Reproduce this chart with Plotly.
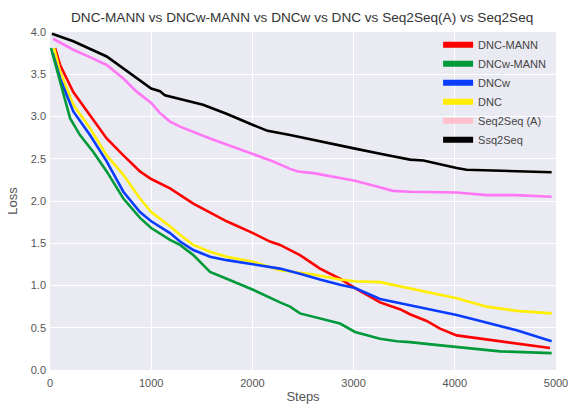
import plotly.graph_objects as go

# ---- data ----
names = ["DNC-MANN", "DNCw-MANN", "DNCw", "DNC", "Seq2Seq (A)", "Ssq2Seq"]
legend_colors = ["#ff0000", "#009a3a", "#0a3cff", "#ffee00", "#ffc0cb", "#000000"]
line_colors = ["#ff0000", "#009a3a", "#0a3cff", "#ffee00", "#ff77f5", "#000000"]

dnc_mann_x = [50, 100, 230, 395, 560, 725, 889, 1000, 1186, 1416, 1746, 2006, 2174, 2273, 2470, 2668,
              2866, 3014, 3261, 3458, 3557, 3722, 3854, 4018, 4315, 4710, 4941]
dnc_mann_y = [3.81, 3.61, 3.29, 3.02, 2.74, 2.54, 2.35, 2.26, 2.15, 1.97, 1.76, 1.62, 1.52, 1.48, 1.36, 1.20,
              1.08, 0.97, 0.80, 0.72, 0.66, 0.58, 0.49, 0.41, 0.36, 0.30, 0.26]

dncw_mann_x = [10, 100, 198, 296, 428, 560, 725, 889, 1000, 1186, 1285, 1416, 1581, 1746, 2006, 2273, 2372,
               2470, 2668, 2866, 3014, 3261, 3426, 3557, 3788, 4117, 4447, 4957]
dncw_mann_y = [3.81, 3.41, 2.98, 2.78, 2.58, 2.35, 2.03, 1.80, 1.68, 1.54, 1.48, 1.36, 1.16, 1.08, 0.95, 0.80, 0.75,
               0.67, 0.61, 0.55, 0.45, 0.37, 0.34, 0.33, 0.30, 0.26, 0.22, 0.20]

dncw_x = [27, 100, 230, 395, 560, 725, 889, 1000, 1186, 1285, 1416, 1581, 1746, 2006, 2273, 2470, 2668,
          2866, 3014, 3261, 3458, 3788, 4018, 4282, 4611, 4957]
dncw_y = [3.75, 3.45, 3.06, 2.78, 2.47, 2.11, 1.87, 1.76, 1.62, 1.52, 1.42, 1.34, 1.30, 1.25, 1.20, 1.14, 1.07,
          1.01, 0.97, 0.84, 0.79, 0.71, 0.65, 0.57, 0.47, 0.34]

dnc_x = [40, 100, 230, 395, 560, 725, 889, 1000, 1186, 1285, 1416, 1581, 1746, 2006, 2273, 2603, 2866,
         3014, 3261, 3458, 3788, 4018, 4315, 4611, 4957]
dnc_y = [3.81, 3.53, 3.14, 2.86, 2.54, 2.31, 2.03, 1.87, 1.70, 1.60, 1.48, 1.40, 1.34, 1.28, 1.18, 1.13, 1.07,
         1.05, 1.04, 0.99, 0.91, 0.85, 0.75, 0.70, 0.67]

seq2seq_a_x = [30, 230, 400, 560, 725, 850, 1000, 1087, 1186, 1285, 1581, 2006, 2200, 2372, 2450, 2603,
               3014, 3200, 3390, 3557, 4018, 4315, 4600, 4957]
seq2seq_a_y = [3.92, 3.79, 3.70, 3.61, 3.45, 3.30, 3.16, 3.04, 2.94, 2.88, 2.74, 2.56, 2.47, 2.38, 2.35, 2.33,
               2.24, 2.18, 2.12, 2.11, 2.10, 2.07, 2.07, 2.05]

seq2seq_x = [20, 230, 560, 800, 1000, 1087, 1136, 1512, 1750, 2006, 2150, 2372, 2600, 3014, 3300, 3557,
             3690, 3900, 4018, 4117, 4500, 4957]
seq2seq_y = [3.98, 3.89, 3.71, 3.50, 3.33, 3.30, 3.25, 3.14, 3.03, 2.90, 2.83, 2.78, 2.72, 2.62, 2.55, 2.49,
             2.48, 2.42, 2.39, 2.37, 2.36, 2.34]

x_ticks = [0, 1000, 2000, 3000, 4000, 5000]
y_ticks = [0.0, 0.5, 1.0, 1.5, 2.0, 2.5, 3.0, 3.5, 4.0]

series = [
    (dnc_mann_x, dnc_mann_y),
    (dncw_mann_x, dncw_mann_y),
    (dncw_x, dncw_y),
    (dnc_x, dnc_y),
    (seq2seq_a_x, seq2seq_a_y),
    (seq2seq_x, seq2seq_y),
]
draw_order = [5, 4, 0, 3, 2, 1]

fig = go.Figure()
for i in draw_order:
    xs, ys = series[i]
    fig.add_trace(go.Scatter(x=xs, y=ys, mode="lines", name=names[i],
                             line=dict(color=line_colors[i], width=2.6),
                             showlegend=False, hoverinfo="skip"))
# legend proxies (patch-like entries)
for i in range(len(names)):
    fig.add_trace(go.Scatter(x=[None], y=[None], mode="lines", name=names[i],
                             line=dict(color=legend_colors[i], width=6)))

fig.update_layout(
    width=568, height=404,
    margin=dict(l=50, r=12, t=32, b=34),
    paper_bgcolor="white",
    plot_bgcolor="#EAEAF2",
    font=dict(family="Liberation Sans, Arial, sans-serif", size=11, color="#555555"),
    title=dict(text="DNC-MANN vs DNCw-MANN vs DNCw vs DNC vs Seq2Seq(A) vs Seq2Seq",
               x=0.532, xanchor="center", y=0.957, yanchor="middle",
               font=dict(size=13.6, color="#333333")),
    showlegend=True,
    legend=dict(x=0.767, xanchor="left", y=1.005, yanchor="top",
                bgcolor="rgba(0,0,0,0)", font=dict(size=11, color="#444444"),
                tracegroupgap=0),
    xaxis=dict(range=[0, 5000], tickvals=x_ticks, showgrid=True, gridcolor="white", gridwidth=1,
               zeroline=False, showline=False, ticks="", automargin=False, ticklabelstandoff=5,
               ticklabeloverflow="allow", title=dict(text="Steps", standoff=4)),
    yaxis=dict(range=[0, 4.0], tickvals=y_ticks, tickformat=".1f", showgrid=True, gridcolor="white",
               gridwidth=1, zeroline=False, showline=False, ticks="", automargin=False,
               ticklabelstandoff=3, title=dict(text="Loss", standoff=10)),
)

fig.write_html("out.html", config={"displayModeBar": False},
               post_script="document.body.style.margin='0';")
